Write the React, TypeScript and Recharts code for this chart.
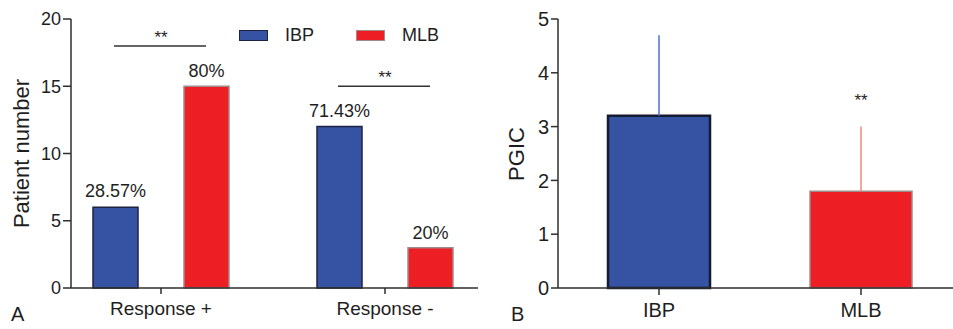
import React from 'react';
import {
  BarChart,
  Bar,
  XAxis,
  YAxis,
  Cell,
  LabelList,
  ErrorBar,
  ReferenceLine,
  ReferenceDot,
  Legend,
} from 'recharts';

// ---------- Panel A data ----------
const responseCategories = ['Response +', 'Response -'];
const ibpCounts = [6, 12];
const mlbCounts = [15, 3];
const ibpPercentLabels = ['28.57%', '71.43%'];
const mlbPercentLabels = ['80%', '20%'];
const countTicks = [0, 5, 10, 15, 20];
const responseSignificance = ['**', '**'];

// ---------- Panel B data ----------
const pgicGroups = ['IBP', 'MLB'];
const pgicMeans = [3.2, 1.8];
const pgicSD = [1.5, 1.2];
const pgicTicks = [0, 1, 2, 3, 4, 5];
const pgicSignificance = ['', '**'];

const FONT = '"Liberation Sans", Arial, Helvetica, sans-serif';
const BLUE = '#3652A3';
const RED = '#ED1F24';
const BLUE_EDGE = '#1c2340';
const RED_EDGE = '#a08a8a';
const AXIS = '#2e2e2e';
const TEXT = '#1e1e1e';

const responseData = responseCategories.map((category, i) => ({
  category,
  ibp: ibpCounts[i],
  mlb: mlbCounts[i],
  ibpLabel: ibpPercentLabels[i],
  mlbLabel: mlbPercentLabels[i],
}));

const brackets = responseCategories.map((category, i) => ({
  category,
  y: Math.max(ibpCounts[i], mlbCounts[i]) + 3,
  text: responseSignificance[i],
}));

const pgicData = pgicGroups.map((group, i) => ({
  group,
  mean: pgicMeans[i],
  errIbp: i === 0 ? [0, pgicSD[i]] : null,
  errMlb: i === 1 ? [0, pgicSD[i]] : null,
}));

const padA = { left: -22, right: -19 };

// bracket spanning the two bars of a category (drawn around the band centre)
const bracketShape = (p: any) => (
  <line
    x1={p.x1 - 47}
    x2={p.x2 + 45}
    y1={p.y1}
    y2={p.y2}
    stroke="#333"
    strokeWidth={1.5}
  />
);

const LegendContent = (props: any) => {
  const payload = props.payload || [];
  return (
    <div style={{ display: 'flex', alignItems: 'center', fontFamily: FONT }}>
      {payload.map((p: any, i: number) => (
        <div
          key={i}
          style={{ display: 'flex', alignItems: 'center', marginRight: 42, height: 20 }}
        >
          <span
            style={{
              display: 'inline-block',
              width: 27,
              height: 9,
              background: p.color,
              border: `1px solid ${p.payload && p.payload.stroke ? p.payload.stroke : '#333'}`,
            }}
          />
          <span style={{ marginLeft: 17, fontSize: 18, color: TEXT, lineHeight: '20px' }}>
            {p.value}
          </span>
        </div>
      ))}
    </div>
  );
};

const yLabelA = () => (
  <text
    x={28.5}
    y={153.5}
    transform="rotate(-90, 28.5, 153.5)"
    textAnchor="middle"
    fontSize={22}
    fontFamily={FONT}
    fill={TEXT}
  >
    Patient number
  </text>
);

const yLabelB = () => (
  <text
    x={44.4}
    y={154}
    transform="rotate(-90, 44.4, 154)"
    textAnchor="middle"
    fontSize={22}
    fontFamily={FONT}
    fill={TEXT}
  >
    PGIC
  </text>
);

export default function App() {
  return (
    <div
      style={{
        position: 'absolute',
        left: 0,
        top: 0,
        width: 953,
        height: 329,
        background: '#ffffff',
        overflow: 'hidden',
        fontFamily: FONT,
      }}
    >
      <div style={{ position: 'absolute', left: 0, top: 0 }}>
        <BarChart
          width={480}
          height={329}
          data={responseData}
          margin={{ top: 19, right: 2, bottom: 0, left: 0 }}
          barSize={45}
          barGap={46}
        >
          <XAxis
            dataKey="category"
            height={41}
            padding={padA}
            tickSize={6}
            tickMargin={8}
            stroke={AXIS}
            strokeWidth={1.5}
            tick={{ fontSize: 19, fill: TEXT, fontFamily: FONT }}
          />
          <YAxis
            width={71}
            domain={[0, 20]}
            ticks={countTicks}
            interval={0}
            tickSize={8}
            tickMargin={2}
            stroke={AXIS}
            strokeWidth={1.5}
            tick={{ fontSize: 18, fill: TEXT, fontFamily: FONT }}
            label={yLabelA}
          />
          <Legend
            layout="horizontal"
            verticalAlign="middle"
            align="center"
            content={LegendContent}
            wrapperStyle={{ left: 239, top: 25, width: 240, height: 20 }}
          />
          <Bar
            dataKey="ibp"
            name="IBP"
            fill={BLUE}
            stroke={BLUE_EDGE}
            strokeWidth={1.5}
            isAnimationActive={false}
          >
            <LabelList
              dataKey="ibpLabel"
              position="top"
              offset={10}
              style={{ fontSize: 18, fill: TEXT, fontFamily: FONT }}
            />
          </Bar>
          <Bar
            dataKey="mlb"
            name="MLB"
            fill={RED}
            stroke={RED_EDGE}
            strokeWidth={1.5}
            isAnimationActive={false}
          >
            <LabelList
              dataKey="mlbLabel"
              position="top"
              offset={9}
              style={{ fontSize: 18, fill: TEXT, fontFamily: FONT }}
            />
          </Bar>
          {brackets.map((b, i) => (
            <ReferenceLine
              key={i}
              segment={[
                { x: b.category, y: b.y },
                { x: b.category, y: b.y },
              ]}
              shape={bracketShape}
              stroke="#333"
              strokeWidth={1.5}
              label={{
                value: b.text,
                position: 'top',
                offset: 3,
                fontSize: 17,
                fill: TEXT,
                fontFamily: FONT,
              }}
            />
          ))}
        </BarChart>
      </div>

      <div style={{ position: 'absolute', left: 480, top: 0 }}>
        <BarChart
          width={473}
          height={329}
          data={pgicData}
          margin={{ top: 19, right: 0, bottom: 0, left: 0 }}
          barSize={102}
        >
          <XAxis
            dataKey="group"
            height={41}
            padding={{ left: 0, right: -9 }}
            tickSize={7}
            tickMargin={8}
            stroke={AXIS}
            strokeWidth={1.5}
            tick={{ fontSize: 20, fill: TEXT, fontFamily: FONT }}
          />
          <YAxis
            width={78}
            domain={[0, 5]}
            ticks={pgicTicks}
            interval={0}
            tickSize={7}
            tickMargin={2}
            stroke={AXIS}
            strokeWidth={1.5}
            tick={{ fontSize: 20, fill: TEXT, fontFamily: FONT }}
            label={yLabelB}
          />
          <Bar dataKey="mean" isAnimationActive={false} strokeWidth={2}>
            {pgicData.map((d, i) => (
              <Cell
                key={i}
                fill={i === 0 ? BLUE : RED}
                stroke={i === 0 ? '#141a30' : RED_EDGE}
                strokeWidth={i === 0 ? 2.5 : 1.5}
              />
            ))}
            <ErrorBar dataKey="errIbp" width={0} stroke="#4a6fd0" strokeWidth={1.5} direction="y" />
            <ErrorBar dataKey="errMlb" width={0} stroke="#f28a78" strokeWidth={1.5} direction="y" />
          </Bar>
          {pgicGroups.map((g, i) =>
            pgicSignificance[i] ? (
              <ReferenceDot
                key={g}
                x={g}
                y={pgicMeans[i] + pgicSD[i] + 0.5}
                r={0}
                fill="none"
                stroke="none"
                label={{
                  value: pgicSignificance[i],
                  position: 'center',
                  fontSize: 17,
                  fill: TEXT,
                  fontFamily: FONT,
                }}
              />
            ) : null
          )}
        </BarChart>
      </div>

      <svg
        width={953}
        height={329}
        style={{ position: 'absolute', left: 0, top: 0, pointerEvents: 'none' }}
      >
        <text x={11} y={321} fontSize={20} fontFamily={FONT} fill={TEXT}>
          A
        </text>
        <text x={511} y={321} fontSize={20} fontFamily={FONT} fill={TEXT}>
          B
        </text>
      </svg>
    </div>
  );
}
